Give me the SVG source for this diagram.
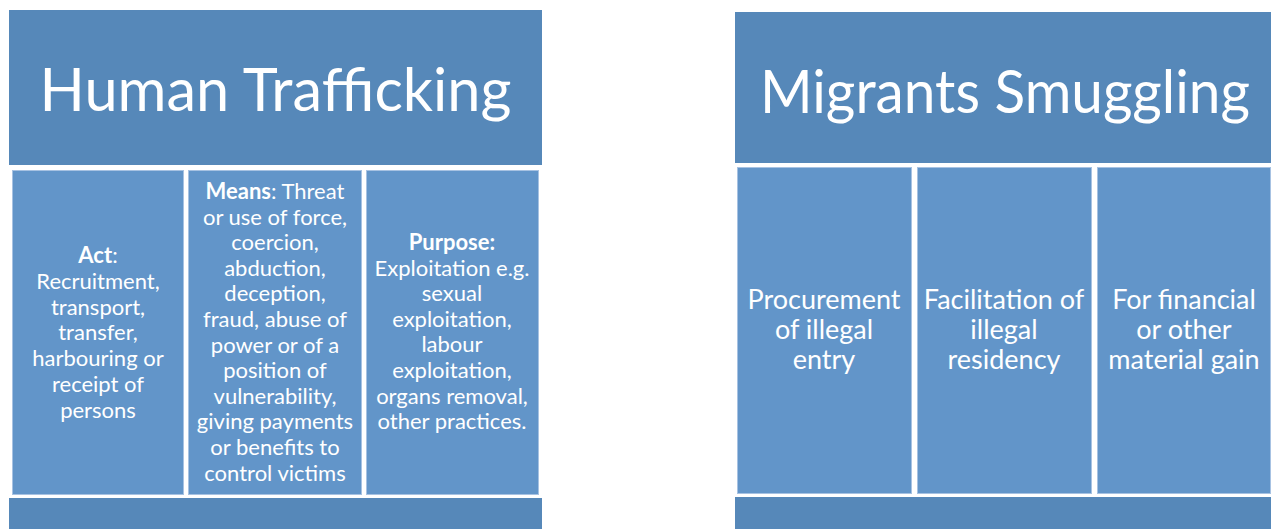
<svg xmlns="http://www.w3.org/2000/svg" width="1271" height="529" viewBox="0 0 1271 529">
<style>
.hdr{fill:#5688B9;}
.box{fill:#6295C9;stroke:#A7C2E2;stroke-width:1;}
.title{font-family:Lato,"Open Sans","Liberation Sans",sans-serif;font-size:60px;fill:#ffffff;text-anchor:middle;}
.t{font-family:Lato,"Open Sans","Liberation Sans",sans-serif;font-size:22px;fill:#ffffff;text-anchor:middle;}
.t2{font-family:Lato,"Open Sans","Liberation Sans",sans-serif;font-size:27px;fill:#ffffff;text-anchor:middle;}
.b{font-weight:bold;}
</style>
<rect width="1271" height="529" fill="#ffffff"/>
<g id="ht-header">
<rect class="hdr" x="9" y="10" width="533" height="155"/>
<text class="title" x="275.5" y="111" textLength="472" lengthAdjust="spacingAndGlyphs">Human Trafficking</text>
</g>
<g id="ht-act">
<rect class="box" x="12.5" y="170.5" width="171" height="324"/>
<text class="t" x="98"><tspan x="98" y="263"><tspan class="b">Act</tspan>:</tspan><tspan x="98" y="289">Recruitment,</tspan><tspan x="98" y="315">transport,</tspan><tspan x="98" y="340">transfer,</tspan><tspan x="98" y="366">harbouring or</tspan><tspan x="98" y="392">receipt of</tspan><tspan x="98" y="418">persons</tspan></text>
</g>
<g id="ht-means">
<rect class="box" x="188.5" y="170.5" width="173" height="324"/>
<text class="t" x="275"><tspan x="275" y="199"><tspan class="b">Means</tspan>: Threat</tspan><tspan x="275" y="224.6">or use of force,</tspan><tspan x="275" y="250.2">coercion,</tspan><tspan x="275" y="275.8">abduction,</tspan><tspan x="275" y="301.4">deception,</tspan><tspan x="275" y="327">fraud, abuse of</tspan><tspan x="275" y="352.6">power or of a</tspan><tspan x="275" y="378.2">position of</tspan><tspan x="275" y="403.8">vulnerability,</tspan><tspan x="275" y="429.4">giving payments</tspan><tspan x="275" y="455">or benefits to</tspan><tspan x="275" y="480.6">control victims</tspan></text>
</g>
<g id="ht-purpose">
<rect class="box" x="366.5" y="170.5" width="172" height="324"/>
<text class="t" x="452"><tspan x="452" y="250" class="b">Purpose:</tspan><tspan x="452" y="275.6">Exploitation e.g.</tspan><tspan x="452" y="301.2">sexual</tspan><tspan x="452" y="326.8">exploitation,</tspan><tspan x="452" y="352.4">labour</tspan><tspan x="452" y="378">exploitation,</tspan><tspan x="452" y="403.6">organs removal,</tspan><tspan x="452" y="429.2">other practices.</tspan></text>
</g>
<g id="ht-footer">
<rect class="hdr" x="9" y="498" width="533" height="31"/>
</g>
<g id="ms-header">
<rect class="hdr" x="735" y="12" width="536" height="151"/>
<text class="title" x="1005" y="113" textLength="490" lengthAdjust="spacingAndGlyphs">Migrants Smuggling</text>
</g>
<g id="ms-entry">
<rect class="box" x="737.5" y="167.5" width="174" height="326"/>
<text class="t2" x="824"><tspan x="824" y="309">Procurement</tspan><tspan x="824" y="339">of illegal</tspan><tspan x="824" y="369">entry</tspan></text>
</g>
<g id="ms-residency">
<rect class="box" x="917.5" y="167.5" width="174" height="326"/>
<text class="t2" x="1004"><tspan x="1004" y="309">Facilitation of</tspan><tspan x="1004" y="339">illegal</tspan><tspan x="1004" y="369">residency</tspan></text>
</g>
<g id="ms-gain">
<rect class="box" x="1097.5" y="167.5" width="173" height="326"/>
<text class="t2" x="1184"><tspan x="1184" y="309">For financial</tspan><tspan x="1184" y="339">or other</tspan><tspan x="1184" y="369">material gain</tspan></text>
</g>
<g id="ms-footer">
<rect class="hdr" x="735" y="497" width="536" height="32"/>
</g>
<g id="connectors"></g>
</svg>
